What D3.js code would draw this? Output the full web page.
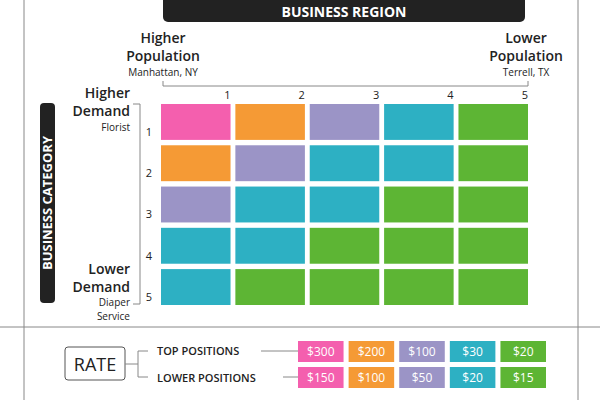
<!DOCTYPE html><html><head><script src="https://cdn.jsdelivr.net/npm/d3@7"></script>
<style>body{margin:0;background:#fff}text{font-family:"Open Sans",Lato,sans-serif}</style></head><body><svg width="600" height="400"></svg>
<script>
const regions=[1,2,3,4,5];
const categories=[1,2,3,4,5];
const tiers=[[0,1,2,3,4],[1,2,3,3,4],[2,3,3,4,4],[3,3,4,4,4],[3,4,4,4,4]];
const tierColors=["#f45fae","#f59a35","#9b94c6","#2db0c3","#5db534"];
const topRates=["$300","$200","$100","$30","$20"];
const lowerRates=["$150","$100","$50","$20","$15"];
const svg=d3.select("svg");
const x=d3.scaleBand().domain(regions).range([161,528]).paddingInner(0.065).paddingOuter(0);
const y=d3.scaleBand().domain(categories).range([104,305]).paddingInner(0.13).paddingOuter(0);
const g="#888";
svg.append("line").attr("x1",24).attr("x2",24).attr("y1",0).attr("y2",400).attr("stroke",g);
svg.append("line").attr("x1",578).attr("x2",578).attr("y1",0).attr("y2",400).attr("stroke",g);
svg.append("line").attr("x1",0).attr("x2",600).attr("y1",327).attr("y2",327).attr("stroke",g);
svg.append("rect").attr("x",163).attr("y",-6).attr("width",362).attr("height",28).attr("rx",5).attr("fill","#222");
svg.append("text").attr("x",344).attr("y",17).attr("text-anchor","middle").attr("fill","#fff").attr("font-weight","bold").attr("font-size",14).text("BUSINESS REGION");
svg.append("rect").attr("x",40).attr("y",103).attr("width",15).attr("height",200).attr("rx",4).attr("fill","#222");
svg.append("text").attr("transform","translate(52,203) rotate(-90)").attr("text-anchor","middle").attr("fill","#fff").attr("font-weight","bold").attr("font-size",13).text("BUSINESS CATEGORY");
function lbl(t,xx,yy,s,a,w){svg.append("text").attr("x",xx).attr("y",yy).attr("text-anchor",a).attr("font-size",s).attr("font-weight",w||"600").attr("fill","#222").text(t);}
lbl("Higher",163,43,14,"middle");lbl("Population",163,61,14,"middle");lbl("Manhattan, NY",163,76,10,"middle","normal");
lbl("Lower",526,43,14,"middle");lbl("Population",526,61,14,"middle");lbl("Terrell, TX",526,76,10,"middle","normal");
lbl("Higher",130,98,14,"end");lbl("Demand",130,116,14,"end");lbl("Florist",130,131,10,"end","normal");
lbl("Lower",130,274,14,"end");lbl("Demand",130,292,14,"end");lbl("Diaper",130,306,10,"end","normal");lbl("Service",130,320,10,"end","normal");
svg.append("path").attr("d","M163,81V86H528V81").attr("fill","none").attr("stroke",g);
svg.append("path").attr("d","M133,104H140V304H133").attr("fill","none").attr("stroke",g);
regions.forEach(r=>lbl(r,x(r)+x.bandwidth(),99,11,"end","normal"));
categories.forEach(c=>lbl(c,152,y(c)+y.bandwidth()-4,11,"end","normal"));
categories.forEach((c,i)=>regions.forEach((r,j)=>{
 svg.append("rect").attr("x",x(r)).attr("y",y(c)).attr("width",x.bandwidth()).attr("height",y.bandwidth()).attr("fill",tierColors[tiers[i][j]]);
}));
svg.append("rect").attr("x",65).attr("y",347).attr("width",60).attr("height",33).attr("rx",3).attr("fill","#fff").attr("stroke","#555");
svg.append("text").attr("x",95).attr("y",371).attr("text-anchor","middle").attr("font-size",18).attr("fill","#222").text("RATE");
svg.append("path").attr("d","M125,364H138M148,351H138V377H148").attr("fill","none").attr("stroke",g);
lbl("TOP POSITIONS",157,355,11,"start");lbl("LOWER POSITIONS",157,382,11,"start");
svg.append("line").attr("x1",261).attr("x2",298).attr("y1",351).attr("y2",351).attr("stroke",g);
svg.append("line").attr("x1",283).attr("x2",298).attr("y1",377).attr("y2",377).attr("stroke",g);
const bx=d3.scaleBand().domain(d3.range(5)).range([298,546]).paddingInner(0.1).paddingOuter(0);
[[topRates,341],[lowerRates,367]].forEach(([arr,yy])=>arr.forEach((v,i)=>{
 svg.append("rect").attr("x",bx(i)).attr("y",yy).attr("width",bx.bandwidth()).attr("height",21).attr("fill",tierColors[i]);
 svg.append("text").attr("x",bx(i)+bx.bandwidth()/2).attr("y",yy+15).attr("text-anchor","middle").attr("font-size",12).attr("fill","#fff").text(v);
}));
</script></body></html>
